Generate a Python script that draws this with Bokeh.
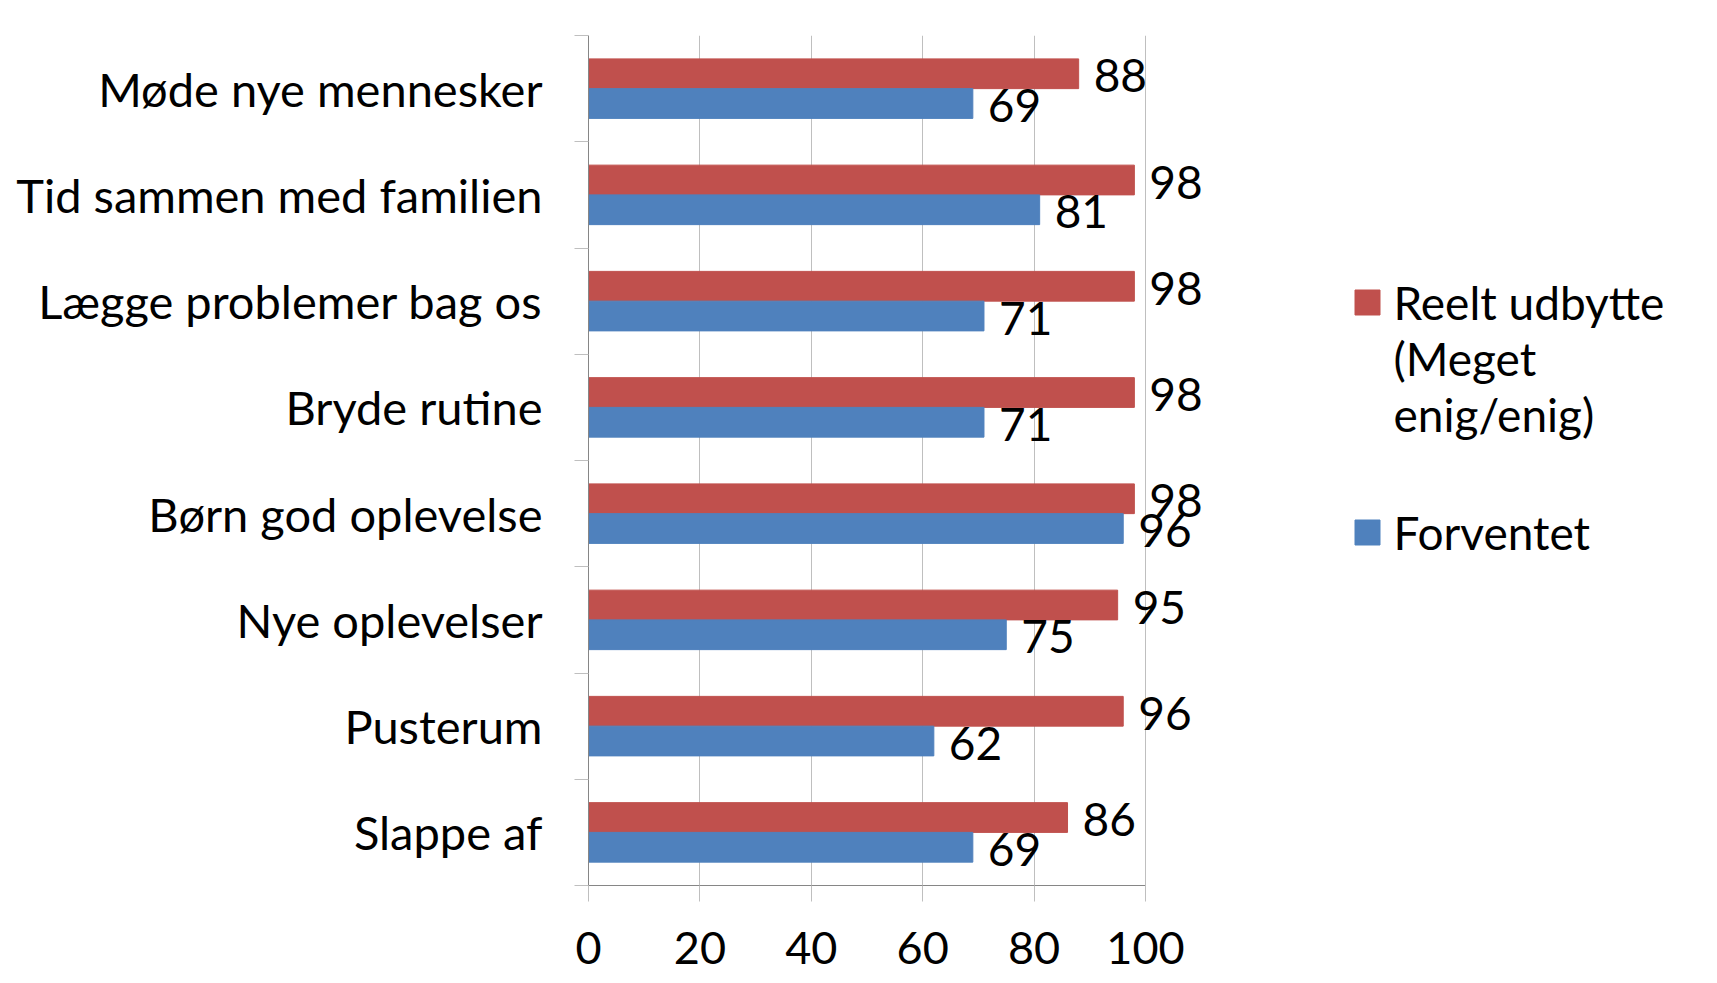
from bokeh.plotting import figure
from bokeh.models import ColumnDataSource, Range1d, FixedTicker, LabelSet
from bokeh.core.properties import value
from bokeh.embed import file_html
from bokeh.resources import INLINE

# ---- data ----
categories = ["Møde nye mennesker", "Tid sammen med familien", "Lægge problemer bag os",
              "Bryde rutine", "Børn god oplevelse", "Nye oplevelser", "Pusterum", "Slappe af"]
reelt = [88, 98, 98, 98, 98, 95, 96, 86]
forventet = [69, 81, 71, 71, 96, 75, 62, 69]
x_ticks = [0, 20, 40, 60, 80, 100]
series_names = ["Reelt udbytte\n(Meget\nenig/enig)", "Forventet"]
series_colors = ["#C0504D", "#4F81BD"]

FONT = "Lato"
n = len(categories)
centers = [n - i - 0.5 for i in range(n)]
bar_h = 0.28
off = 0.14

# layout (pixels)
LEFT = 588          # space for category labels
PLOT_W = 557        # width of the 0..100 value axis
FW = 1113           # frame width (value axis + label/legend area)
FH = 850            # frame height
TOP = 35
BOTTOM = 90

src_r = ColumnDataSource(dict(y=[c + off for c in centers], v=reelt,
                              t=[str(v) for v in reelt]))
src_f = ColumnDataSource(dict(y=[c - off for c in centers], v=forventet,
                              t=[str(v) for v in forventet]))

p = figure(frame_width=FW, frame_height=FH, output_backend="svg", toolbar_location=None,
           x_range=Range1d(0, 100 * FW / PLOT_W), y_range=Range1d(0, n),
           min_border_left=LEFT, min_border_right=0, min_border_top=TOP,
           min_border_bottom=BOTTOM)
p.outline_line_color = None
p.background_fill_color = "white"
p.border_fill_color = "white"

p.hbar(y="y", right="v", left=0, height=bar_h, source=src_r, color=series_colors[0])
p.hbar(y="y", right="v", left=0, height=bar_h, source=src_f, color=series_colors[1])

for src in (src_r, src_f):
    p.add_layout(LabelSet(x="v", y="y", text="t", source=src, x_offset=15, y_offset=-2,
                          text_align="left", text_baseline="middle",
                          text_font=value(FONT), text_font_size="46px", text_color="black"))

# x axis
xa = p.xaxis[0]
xa.ticker = FixedTicker(ticks=x_ticks)
xa.bounds = (0, 100)
xa.axis_line_color = "#868686"
xa.major_tick_line_color = "#BFBFBF"
xa.major_tick_out = 16
xa.major_tick_in = 0
xa.minor_tick_line_color = None
xa.major_label_text_font = FONT
xa.major_label_text_font_size = "45px"
xa.major_label_text_color = "black"
xa.major_label_standoff = 30

# y axis
ya = p.yaxis[0]
ya.ticker = FixedTicker(ticks=centers, minor_ticks=list(range(n + 1)))
ya.major_label_overrides = {c: name for c, name in zip(centers, categories)}
ya.axis_line_color = "#868686"
ya.major_tick_line_color = None
ya.major_tick_out = 0
ya.major_tick_in = 0
ya.minor_tick_line_color = "#BFBFBF"
ya.minor_tick_out = 14
ya.minor_tick_in = 0
ya.major_label_text_font = FONT
ya.major_label_text_font_size = "47px"
ya.major_label_text_color = "black"
ya.major_label_standoff = 32

p.xgrid.ticker = FixedTicker(ticks=x_ticks)
p.xgrid.grid_line_color = "#BFBFBF"
p.ygrid.grid_line_color = None

# ---- legend, positioned in frame pixels ----
p.extra_x_ranges = {"px": Range1d(0, FW)}
p.extra_y_ranges = {"py": Range1d(FH, 0)}
legend_y = [267, 497]
sq_x = 779
txt_x = 805
line_h = 56
for name, color, yc in zip(series_names, series_colors, legend_y):
    p.rect(x=[sq_x], y=[yc], width=25, height=25, width_units="screen",
           height_units="screen", color=color, x_range_name="px", y_range_name="py")
    lines = name.split("\n")
    p.text(x=[txt_x] * len(lines), y=[yc + k * line_h for k in range(len(lines))], text=lines,
           text_font=value(FONT), text_font_size="46px", text_baseline="middle",
           text_align="left", text_color="black", x_range_name="px", y_range_name="py")

open("out.html", "w").write(file_html(p, INLINE))
